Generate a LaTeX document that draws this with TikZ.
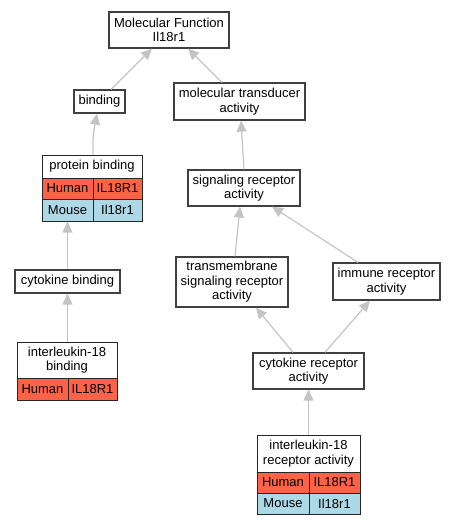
\documentclass[tikz,border=0pt]{standalone}
\usepackage{fontspec}
\setmainfont{Liberation Sans}
\usetikzlibrary{arrows.meta}
\definecolor{human}{HTML}{FF6347}
\definecolor{mouse}{HTML}{ADD8E6}
\definecolor{edgegray}{HTML}{C4C4C4}
\definecolor{boxline}{HTML}{404040}
\tikzset{
  gobox/.style={draw=boxline, line width=1.2pt, fill=white, inner sep=1pt, align=center,
    font=\fontsize{13}{14.5}\selectfont},
  cell/.style={draw=black!85, line width=1pt, inner sep=0pt, align=center,
    font=\fontsize{13}{14.5}\selectfont},
  hcell/.style={cell, fill=human},
  mcell/.style={cell, fill=mouse},
  edge/.style={draw=edgegray, line width=1.2pt, -{Triangle[length=11pt,width=10pt]}},
}
\begin{document}
\begin{tikzpicture}[x=1pt,y=-1pt]
\useasboundingbox (0,0) rectangle (456,525);
% plain GO term boxes
\node[gobox, minimum width=120, minimum height=36] (mf) at (169,30) {Molecular Function\\Il18r1};
\node[gobox, minimum width=51, minimum height=23] (bind) at (99.5,101.5) {binding};
\node[gobox, minimum width=131, minimum height=37] (mta) at (239.5,101.5) {molecular transducer\\activity};
\node[gobox, minimum width=112, minimum height=36] (sra) at (244,188) {signaling receptor\\activity};
\node[gobox, minimum width=105, minimum height=23] (cb) at (67.5,281.5) {cytokine binding};
\node[gobox, minimum width=112, minimum height=50] (tm) at (232,282) {transmembrane\\signaling receptor\\activity};
\node[gobox, minimum width=107, minimum height=37] (ira) at (386.5,281.5) {immune receptor\\activity};
\node[gobox, minimum width=111, minimum height=36] (cra) at (308.5,371) {cytokine receptor\\activity};
% protein binding table
\node[cell, fill=white, minimum width=100, minimum height=23] (pb) at (92,166.5) {protein binding};
\node[hcell, minimum width=51, minimum height=21] (pbh) at (67.5,188.5) {Human};
\node[hcell, minimum width=49, minimum height=21] (pbhg) at (117.5,188.5) {IL18R1};
\node[mcell, minimum width=51, minimum height=22] (pbm) at (67.5,210) {Mouse};
\node[mcell, minimum width=49, minimum height=22] (pbmg) at (117.5,210) {Il18r1};
% interleukin-18 binding table
\node[cell, fill=white, minimum width=100, minimum height=36] (ilb) at (67,360) {interleukin-18\\binding};
\node[hcell, minimum width=51, minimum height=22] (ilbh) at (42.5,389) {Human};
\node[hcell, minimum width=49, minimum height=22] (ilbhg) at (92.5,389) {IL18R1};
% interleukin-18 receptor activity table
\node[cell, fill=white, minimum width=103, minimum height=37] (ilr) at (308.5,453.5) {interleukin-18\\receptor activity};
\node[hcell, minimum width=52, minimum height=21] (ilrh) at (283,482.5) {Human};
\node[hcell, minimum width=51, minimum height=21] (ilrhg) at (334.5,482.5) {IL18R1};
\node[mcell, minimum width=52, minimum height=21] (ilrm) at (283,503.5) {Mouse};
\node[mcell, minimum width=51, minimum height=21] (ilrmg) at (334.5,503.5) {Il18r1};
% edges
\draw[edge] ([xshift=11.5]bind.north) -- ([xshift=-17]mf.south);
\draw[edge] ([xshift=-17.5]mta.north) -- ([xshift=19]mf.south);
\draw[edge] ([xshift=1]pb.north) .. controls (93,135) .. ([xshift=-2.5]bind.south);
\draw[edge] (sra.north) -- ([xshift=1.5]mta.south);
\draw[edge] (cb.north) -- (pbm.south);
\draw[edge] ([xshift=3]tm.north) -- ([xshift=-4]sra.south);
\draw[edge] ([xshift=-28.5]ira.north) -- ([xshift=28]sra.south);
\draw[edge] ([xshift=0.5]ilb.north) -- (cb.south);
\draw[edge] ([xshift=-15.5]cra.north) -- ([xshift=24]tm.south);
\draw[edge] ([xshift=16.5]cra.north) -- ([xshift=-16.5]ira.south);
\draw[edge] (ilr.north) -- (cra.south);
\end{tikzpicture}
\end{document}
